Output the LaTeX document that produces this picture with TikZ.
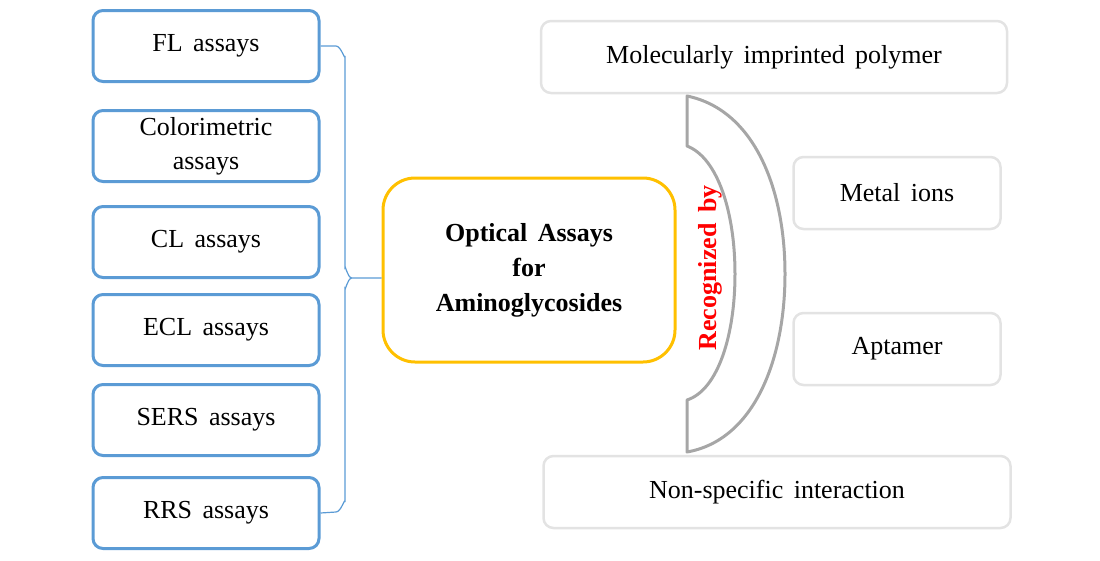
\documentclass[tikz,border=0pt]{standalone}
\usepackage{fontspec}
\setmainfont{Liberation Serif}[WordSpace=1.6]
\definecolor{boxblue}{HTML}{5B9BD5}
\definecolor{boxgold}{HTML}{FFC000}
\definecolor{boxgray}{HTML}{E3E3E3}
\definecolor{arcgray}{HTML}{A6A6A6}
\begin{document}
\begin{tikzpicture}[x=1pt,y=-1pt,
	assay/.style={draw=boxblue, line width=3pt, rounded corners=10pt, minimum width=226pt, minimum height=71pt, align=center, font=\fontsize{26}{34}\selectfont},
	recog/.style={draw=boxgray, line width=2.5pt, rounded corners=10pt, minimum height=72pt, align=center, font=\fontsize{26}{30}\selectfont},
	]
% Just keep the canvas the size of the reference
\useasboundingbox (0,0) rectangle (1100,560);

% Assay boxes
\node[assay] (fl)    at (206,46)  {FL assays};
\node[assay] (color) at (206,146) {Colorimetric\\assays};
\node[assay] (cl)    at (206,242) {CL assays};
\node[assay] (ecl)   at (206,330) {ECL assays};
\node[assay] (sers)  at (206,420) {SERS assays};
\node[assay] (rrs)   at (206,513) {RRS assays};

% Center
\node[draw=boxgold, line width=3pt, rounded corners=32pt, minimum width=292pt, minimum height=184pt, align=center, font=\bfseries\fontsize{26}{35}\selectfont]
	(main) at (529,270) {Optical Assays\\for\\Aminoglycosides};
\coordinate (tip) at (main.west |- 0,278);

% Brace
\draw[boxblue, line width=1.2pt]
	(fl.east) -- (336,46) to[out=0,in=-90] (345,56) -- (345,268)
	to[out=90,in=180] (352,278) -- (tip)
	(352,278) to[out=180,in=-90] (345,288) -- (345,502)
	to[out=90,in=0] (336,512) -- (rrs.east);

% Recognition boxes
\node[recog, minimum width=466pt] (mip)   at (774,57)  {Molecularly imprinted polymer};
\node[recog, minimum width=207pt] (metal) at (897,193) {Metal ions};
\node[recog, minimum width=207pt] (apt)   at (897,349) {Aptamer};
\node[recog, minimum width=467pt] (nonsp) at (777,492) {Non-specific interaction};

% Arc
\draw[arcgray, line width=3pt, line join=round]
	(687,96) .. controls (755,110) and (785,190) .. (785,274)
	.. controls (785,358) and (755,440) .. (687,452)
	-- (687,400) .. controls (718,390) and (735,335) .. (735,274)
	.. controls (735,213) and (718,158) .. (687,146) -- cycle;
\node[rotate=90, text=red, font=\bfseries\fontsize{26}{30}\selectfont] (recby) at (710,268) {Recognized by};
\end{tikzpicture}
\end{document}
